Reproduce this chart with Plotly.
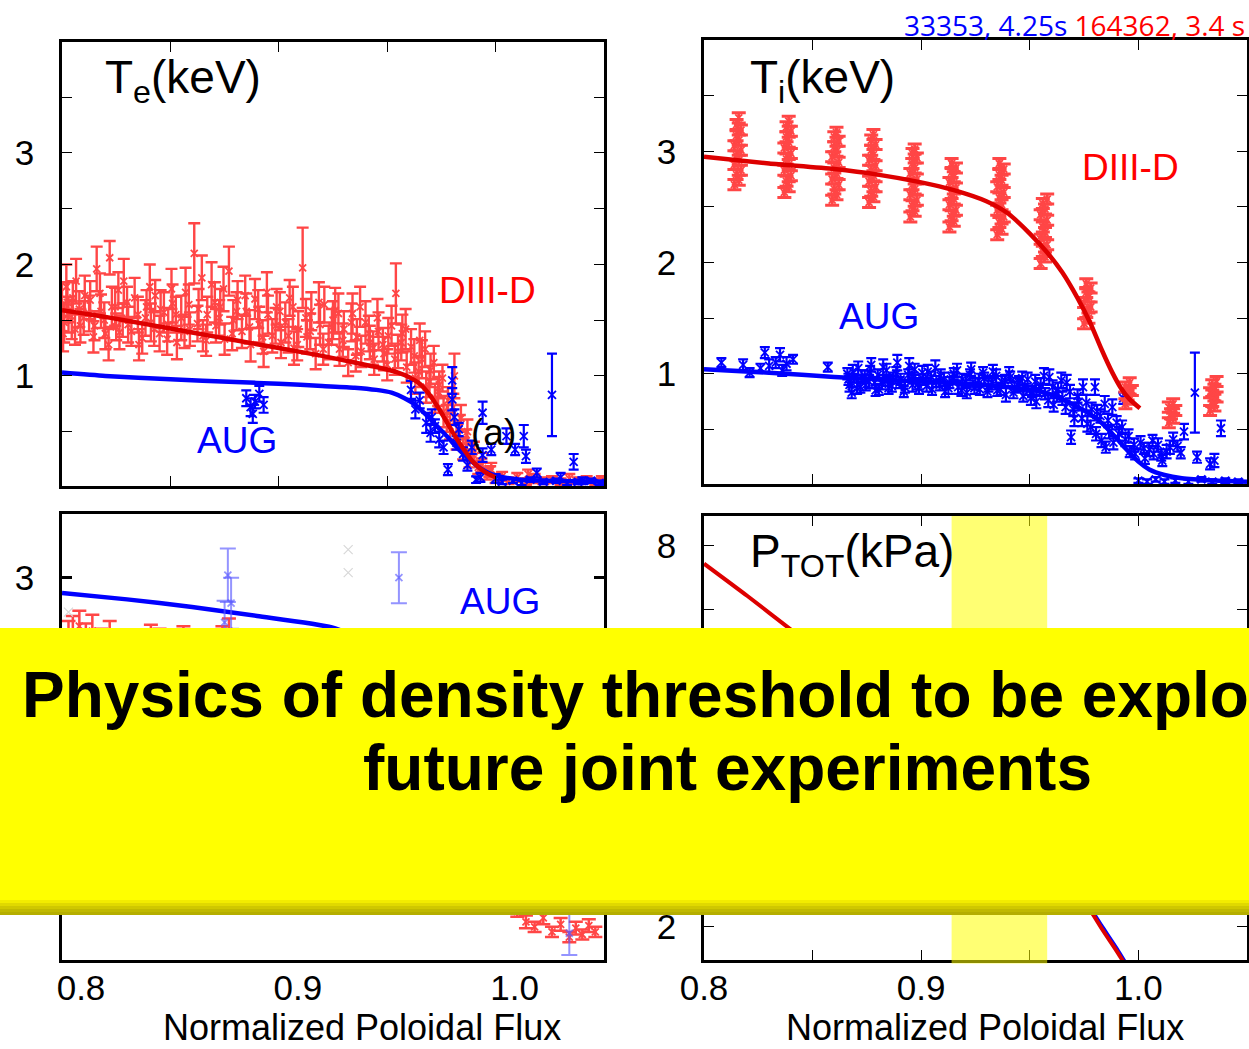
import plotly.graph_objects as go

W, H = 1249, 1049

# ---------------- Te panel (top left) ----------------
te_d3d_x = [0.800, 0.801, 0.802, 0.803, 0.805, 0.806, 0.808, 0.810, 0.813, 0.815,
            0.816, 0.818, 0.820, 0.822, 0.823, 0.825, 0.826, 0.828, 0.830, 0.832,
            0.835, 0.837, 0.839, 0.841, 0.843, 0.845, 0.847, 0.849, 0.851, 0.853,
            0.855, 0.857, 0.859, 0.861, 0.863, 0.865, 0.867, 0.869, 0.871, 0.873,
            0.875, 0.877, 0.879, 0.881, 0.883, 0.885, 0.887, 0.889, 0.891, 0.893,
            0.895, 0.897, 0.899, 0.901, 0.903, 0.905, 0.907, 0.909, 0.911, 0.913,
            0.915, 0.917, 0.919, 0.921, 0.923, 0.925, 0.926, 0.928, 0.930, 0.932,
            0.934, 0.936, 0.938, 0.940, 0.942, 0.944, 0.946, 0.948, 0.950, 0.952,
            0.954, 0.955, 0.957, 0.959, 0.961, 0.963, 0.965, 0.966, 0.968, 0.970,
            0.972, 0.974, 0.976, 0.978, 0.979, 0.981, 0.982, 0.984, 0.985, 0.987,
            0.988, 0.990, 0.992, 0.994, 0.996, 0.998, 1.000, 1.003, 1.006, 1.010,
            1.014, 1.015, 1.018, 1.022, 1.026, 1.030, 1.034, 1.038, 1.042, 1.046, 1.049,
            0.8005, 0.8025, 0.8045, 0.8065, 0.8085, 0.8105, 0.8125, 0.8145, 0.8175, 0.8195,
            0.8215, 0.8245, 0.8265, 0.8285, 0.8305, 0.8335, 0.8355, 0.8385, 0.8405, 0.8425,
            0.8455, 0.8485, 0.8505, 0.8525, 0.8565, 0.8585, 0.8625, 0.8645, 0.8665, 0.8705,
            0.8725, 0.8745, 0.8785, 0.8805, 0.8845, 0.8865, 0.8905, 0.8925, 0.8945, 0.8985,
            0.9005, 0.9045, 0.9065, 0.9085, 0.9125, 0.9145, 0.9185, 0.9205, 0.9245, 0.9275,
            0.9295, 0.9335, 0.9355, 0.9375, 0.9415, 0.9435, 0.9455, 0.9485, 0.9505, 0.9535,
            0.9565, 0.9585, 0.9625, 0.9645, 0.9675, 0.9695, 0.9715, 0.9735, 0.9755, 0.9775,
            0.9805, 0.9835, 0.9865, 0.9895, 0.9935, 0.9975]
te_d3d_y = [1.62, 1.48, 1.80, 1.55, 1.70, 1.42, 1.60, 1.52, 1.68, 1.45,
            1.96, 1.58, 1.38, 2.06, 1.62, 1.44, 1.77, 1.50, 1.66, 1.40,
            1.55, 1.34, 1.62, 1.48, 1.72, 1.38, 1.57, 1.46, 1.65, 1.30,
            1.52, 1.75, 1.42, 2.10, 1.60, 1.36, 1.55, 1.82, 1.45, 1.62,
            1.33, 1.94, 1.50, 1.68, 1.40, 1.58, 1.28, 1.69, 1.46, 1.22,
            1.55, 1.36, 1.62, 1.30, 1.48, 1.70, 1.25, 1.42, 1.97, 1.35,
            1.58, 1.20, 1.46, 1.64, 1.30, 1.50, 1.59, 1.24, 1.42, 1.12,
            1.56, 1.35, 1.22, 1.48, 1.30, 1.15, 1.40, 1.28, 1.10, 1.45,
            1.74, 1.22, 1.38, 1.08, 1.26, 0.98, 1.32, 1.15, 0.90, 1.05,
            0.80, 0.92, 0.68, 0.78, 0.55, 1.00, 0.45, 0.62, 0.35, 0.50,
            0.26, 0.32, 0.18, 0.24, 0.12, 0.16, 0.08, 0.10, 0.06, 0.09,
            0.05, 0.12, 0.08, 0.06, 0.07, 0.05, 0.08, 0.06, 0.07, 0.05, 0.07,
            1.38, 1.66, 1.50, 1.85, 1.45, 1.72, 1.56, 1.35, 1.74, 1.50,
            1.28, 1.62, 1.39, 1.85, 1.46, 1.70, 1.28, 1.52, 1.80, 1.42,
            1.60, 1.33, 1.78, 1.55, 1.40, 1.64, 1.47, 1.88, 1.32, 1.66,
            1.52, 1.78, 1.38, 1.58, 1.72, 1.44, 1.60, 1.35, 1.75, 1.45,
            1.58, 1.36, 1.62, 1.28, 1.52, 1.40, 1.66, 1.24, 1.44, 1.56,
            1.32, 1.48, 1.18, 1.62, 1.38, 1.25, 1.52, 1.20, 1.36, 1.15,
            1.30, 1.42, 1.18, 1.04, 1.24, 0.95, 1.12, 0.86, 0.98, 0.62,
            0.72, 0.54, 0.42, 0.30, 0.20, 0.14]
te_d3d_err = [0.22, 0.18, 0.20, 0.16, 0.15, 0.14, 0.16, 0.15, 0.17, 0.13,
              0.20, 0.15, 0.14, 0.15, 0.18, 0.12, 0.16, 0.15, 0.14, 0.13,
              0.16, 0.14, 0.15, 0.17, 0.14, 0.16, 0.18, 0.15, 0.17, 0.15,
              0.20, 0.22, 0.15, 0.27, 0.18, 0.14, 0.16, 0.20, 0.15, 0.16,
              0.14, 0.22, 0.18, 0.17, 0.15, 0.16, 0.15, 0.18, 0.16, 0.14,
              0.17, 0.15, 0.16, 0.14, 0.18, 0.16, 0.15, 0.16, 0.36, 0.15,
              0.17, 0.14, 0.18, 0.16, 0.15, 0.17, 0.20, 0.15, 0.16, 0.12,
              0.18, 0.16, 0.14, 0.19, 0.15, 0.14, 0.17, 0.15, 0.14, 0.18,
              0.27, 0.15, 0.17, 0.14, 0.16, 0.14, 0.15, 0.17, 0.14, 0.15,
              0.13, 0.12, 0.14, 0.12, 0.12, 0.20, 0.11, 0.12, 0.10, 0.11,
              0.08, 0.09, 0.06, 0.07, 0.05, 0.06, 0.04, 0.04, 0.03, 0.04,
              0.03, 0.04, 0.04, 0.03, 0.03, 0.03, 0.04, 0.03, 0.03, 0.03, 0.03,
              0.16, 0.18, 0.17, 0.20, 0.15, 0.18, 0.16, 0.14, 0.18, 0.16,
              0.14, 0.17, 0.15, 0.20, 0.16, 0.18, 0.14, 0.16, 0.20, 0.15,
              0.17, 0.14, 0.18, 0.16, 0.15, 0.18, 0.16, 0.20, 0.14, 0.18,
              0.16, 0.20, 0.15, 0.17, 0.18, 0.15, 0.17, 0.15, 0.18, 0.16,
              0.17, 0.15, 0.18, 0.14, 0.17, 0.16, 0.18, 0.14, 0.16, 0.18,
              0.15, 0.17, 0.14, 0.18, 0.16, 0.15, 0.17, 0.15, 0.16, 0.14,
              0.16, 0.18, 0.15, 0.14, 0.16, 0.14, 0.15, 0.13, 0.12, 0.12,
              0.12, 0.11, 0.10, 0.08, 0.06, 0.05]

te_aug_x = [0.885, 0.887, 0.889, 0.891, 0.893, 0.888, 0.961, 0.963, 0.965, 0.968,
            0.9706, 0.970, 0.972, 0.974, 0.976, 0.978, 0.980, 0.980, 0.981, 0.982,
            0.983, 0.985, 0.987, 0.989, 0.991, 0.993, 0.994, 0.994, 0.998, 1.000,
            1.005, 1.009, 1.013, 1.014, 1.019, 1.026, 1.030, 1.036, 1.040,
            1.003, 1.008, 1.012, 1.016, 1.022, 1.028, 1.033, 1.038, 1.044, 1.048]
te_aug_y = [0.80, 0.72, 0.77, 0.84, 0.74, 0.66, 0.875, 0.70, 0.78, 0.58,
            0.63, 0.49, 0.55, 0.43, 0.36, 0.16, 0.96, 0.79, 0.63, 0.40,
            0.52, 0.30, 0.20, 0.36, 0.07, 0.09, 0.67, 0.29, 0.34, 0.08,
            0.46, 0.34, 0.46, 0.28, 0.13, 0.83, 0.09, 0.23, 0.06,
            0.05, 0.06, 0.04, 0.07, 0.05, 0.06, 0.04, 0.05, 0.06, 0.04]
te_aug_err = [0.07, 0.08, 0.06, 0.07, 0.07, 0.08, 0.08, 0.08, 0.07, 0.09,
              0.07, 0.08, 0.06, 0.07, 0.06, 0.05, 0.12, 0.10, 0.07, 0.06,
              0.06, 0.06, 0.05, 0.06, 0.03, 0.04, 0.10, 0.06, 0.05, 0.04,
              0.07, 0.05, 0.10, 0.06, 0.04, 0.37, 0.04, 0.07, 0.03,
              0.02, 0.02, 0.02, 0.02, 0.02, 0.02, 0.02, 0.02, 0.02, 0.02]

te_d3d_fit_x = [0.800, 0.820, 0.840, 0.860, 0.880, 0.900, 0.920, 0.935, 0.945, 0.955,
                0.960, 0.965, 0.970, 0.975, 0.980, 0.985, 0.990, 0.995, 1.000]
te_d3d_fit_y = [1.59, 1.53, 1.46, 1.39, 1.32, 1.25, 1.18, 1.12, 1.08, 1.03,
                0.99, 0.93, 0.82, 0.67, 0.50, 0.35, 0.22, 0.14, 0.09]
te_aug_fit_x = [0.800, 0.820, 0.850, 0.880, 0.900, 0.920, 0.935, 0.945, 0.952, 0.958,
                0.963, 0.968, 0.973, 0.978, 0.983, 0.988, 0.993, 0.998, 1.004, 1.012,
                1.025, 1.050]
te_aug_fit_y = [1.03, 1.00, 0.97, 0.945, 0.93, 0.91, 0.895, 0.875, 0.85, 0.80,
                0.74, 0.65, 0.55, 0.45, 0.34, 0.25, 0.17, 0.12, 0.09, 0.07,
                0.06, 0.05]

# ---------------- Ti panel (top right) ----------------
ti_d3d_x = [0.814, 0.816, 0.815, 0.817, 0.814, 0.816, 0.815, 0.817, 0.814, 0.816, 0.815, 0.817, 0.815, 0.816,
            0.837, 0.839, 0.838, 0.840, 0.837, 0.839, 0.838, 0.840, 0.837, 0.839, 0.838, 0.840, 0.838, 0.839,
            0.859, 0.861, 0.860, 0.862, 0.859, 0.861, 0.860, 0.862, 0.859, 0.861, 0.860, 0.862, 0.860, 0.861,
            0.876, 0.878, 0.877, 0.879, 0.876, 0.878, 0.877, 0.879, 0.876, 0.878, 0.877, 0.879, 0.877, 0.878,
            0.895, 0.897, 0.896, 0.898, 0.895, 0.897, 0.896, 0.898, 0.895, 0.897, 0.896, 0.898, 0.896, 0.897,
            0.913, 0.915, 0.914, 0.916, 0.913, 0.915, 0.914, 0.916, 0.913, 0.915, 0.914, 0.916, 0.914,
            0.935, 0.937, 0.936, 0.938, 0.935, 0.937, 0.936, 0.938, 0.935, 0.937, 0.936, 0.938, 0.936,
            0.955, 0.957, 0.956, 0.958, 0.955, 0.957, 0.956, 0.958, 0.955, 0.957, 0.956, 0.958,
            0.975, 0.977, 0.976, 0.978, 0.975, 0.977, 0.976, 0.978, 0.976,
            0.994, 0.996, 0.995, 0.997, 0.994, 0.996,
            1.014, 1.016, 1.015, 1.017, 1.014, 1.016,
            1.033, 1.035, 1.034, 1.036, 1.033, 1.035, 1.034, 1.036]
ti_d3d_y = [2.70, 2.74, 2.79, 2.83, 2.88, 2.92, 2.96, 3.01, 3.05, 3.10, 3.14, 3.19, 3.24, 3.30,
            2.63, 2.68, 2.73, 2.78, 2.83, 2.88, 2.93, 2.98, 3.03, 3.08, 3.13, 3.18, 3.22, 3.27,
            2.56, 2.61, 2.66, 2.70, 2.75, 2.80, 2.85, 2.90, 2.95, 3.00, 3.04, 3.09, 3.13, 3.17,
            2.54, 2.59, 2.64, 2.68, 2.73, 2.78, 2.83, 2.87, 2.92, 2.97, 3.01, 3.06, 3.10, 3.15,
            2.41, 2.46, 2.51, 2.56, 2.61, 2.66, 2.70, 2.75, 2.80, 2.85, 2.89, 2.94, 2.98, 3.02,
            2.32, 2.37, 2.42, 2.47, 2.52, 2.57, 2.62, 2.67, 2.72, 2.77, 2.81, 2.85, 2.89,
            2.25, 2.30, 2.36, 2.41, 2.47, 2.52, 2.58, 2.63, 2.68, 2.74, 2.79, 2.84, 2.89,
            1.99, 2.05, 2.10, 2.16, 2.21, 2.27, 2.32, 2.38, 2.43, 2.48, 2.53, 2.57,
            1.45, 1.50, 1.55, 1.60, 1.64, 1.69, 1.73, 1.77, 1.81,
            0.73, 0.77, 0.81, 0.85, 0.88, 0.92,
            0.56, 0.60, 0.64, 0.67, 0.70, 0.73,
            0.67, 0.71, 0.75, 0.79, 0.83, 0.86, 0.90, 0.93]
ti_d3d_err = [0.045] * 144

ti_aug_x = [0.808, 0.818, 0.821, 0.826, 0.828, 0.830, 0.833, 0.835, 0.836, 0.838,
            0.841, 0.857, 0.866, 0.867, 0.868, 0.869, 0.871, 0.872, 0.874, 0.876,
            0.877, 0.879, 0.880, 0.882, 0.884, 0.885, 0.887, 0.889, 0.890, 0.892,
            0.894, 0.896, 0.897, 0.899, 0.901, 0.903, 0.905, 0.907, 0.909, 0.911,
            0.913, 0.915, 0.917, 0.919, 0.921, 0.923, 0.925, 0.927, 0.929, 0.931,
            0.933, 0.935, 0.937, 0.939, 0.941, 0.943, 0.945, 0.947, 0.949, 0.951,
            0.953, 0.955, 0.957, 0.959, 0.961, 0.963, 0.965, 0.967, 0.969, 0.970,
            0.972, 0.974, 0.976, 0.978, 0.980, 0.981, 0.983, 0.985, 0.986, 0.988,
            0.990, 0.991, 0.993, 0.994, 0.996, 0.998, 1.001, 1.003, 1.005, 1.007,
            1.009, 1.011, 1.013, 1.016, 1.018, 1.021, 1.026, 1.027, 1.033, 1.035,
            1.038, 1.000, 1.004, 1.008, 1.012, 1.017, 1.023, 1.029, 1.034, 1.040,
            1.046,
            0.8665, 0.8685, 0.8705, 0.8725, 0.8745, 0.8765, 0.8785, 0.8805, 0.8825, 0.8845,
            0.8865, 0.8885, 0.8905, 0.8925, 0.8945, 0.8965, 0.8985, 0.9005, 0.9025, 0.9045,
            0.9065, 0.9085, 0.9105, 0.9125, 0.9145, 0.9165, 0.9185, 0.9205, 0.9225, 0.9245,
            0.9265, 0.9285, 0.9305, 0.9325, 0.9345, 0.9365, 0.9385, 0.9405, 0.9425, 0.9445,
            0.9465, 0.9485, 0.9505, 0.9525, 0.9545, 0.9565, 0.9585, 0.9605, 0.9625, 0.9645,
            0.9665, 0.9685, 0.9705, 0.9725, 0.9745, 0.9765, 0.9785, 0.9805, 0.9825, 0.9845,
            0.9865, 0.9885, 0.9925, 0.9955, 0.9985, 1.0025, 1.0065, 1.0105, 1.0145, 1.0195]
ti_aug_y = [1.10, 1.08, 1.01, 1.05, 1.19, 1.07, 1.10, 1.17, 1.03, 1.09,
            1.13, 1.06, 1.00, 0.90, 0.83, 0.96, 1.05, 0.88, 0.98, 0.93,
            1.08, 0.85, 0.99, 0.91, 1.03, 0.87, 0.96, 1.10, 0.92, 0.84,
            0.99, 0.90, 1.04, 0.87, 0.95, 1.02, 0.86, 0.93, 0.98, 0.84,
            0.92, 1.00, 0.88, 0.95, 0.83, 1.04, 0.91, 0.86, 0.96, 0.89,
            1.02, 0.85, 0.93, 0.81, 0.97, 0.88, 0.92, 0.80, 0.95, 0.84,
            0.75, 0.90, 0.82, 0.97, 0.72, 0.86, 0.78, 0.92, 0.43, 0.68,
            0.80, 0.60, 0.74, 0.52, 0.88, 0.66, 0.40, 0.34, 0.58, 0.70,
            0.56, 0.46, 0.78, 0.41, 0.30, 0.36, 0.38, 0.24, 0.32, 0.28,
            0.36, 0.22, 0.30, 0.41, 0.35, 0.48, 0.83, 0.25, 0.19, 0.22,
            0.51, 0.04, 0.03, 0.05, 0.03, 0.04, 0.03, 0.05, 0.03, 0.04,
            0.03,
            0.95, 1.02, 0.87, 0.97, 0.90, 1.01, 0.92, 0.86, 1.06, 0.94,
            0.89, 1.00, 0.95, 0.88, 1.07, 0.96, 0.91, 1.01, 0.89, 0.97,
            1.05, 0.90, 0.95, 0.87, 0.96, 1.03, 0.85, 0.93, 0.99, 0.87,
            0.94, 1.01, 0.84, 0.92, 0.98, 0.86, 0.94, 1.00, 0.83, 0.90,
            0.96, 0.86, 0.78, 0.93, 0.85, 0.98, 0.76, 0.88, 0.81, 0.94,
            0.70, 0.84, 0.60, 0.75, 0.88, 0.55, 0.68, 0.46, 0.62, 0.73,
            0.48, 0.38, 0.52, 0.44, 0.28, 0.33, 0.40, 0.27, 0.34, 0.29]
ti_aug_err = [0.04, 0.05, 0.04, 0.04, 0.05, 0.06, 0.05, 0.06, 0.05, 0.06,
              0.04, 0.04, 0.05, 0.06, 0.05, 0.04, 0.06, 0.05, 0.05, 0.06,
              0.06, 0.05, 0.05, 0.05, 0.06, 0.05, 0.05, 0.07, 0.05, 0.05,
              0.05, 0.06, 0.05, 0.05, 0.05, 0.06, 0.05, 0.05, 0.06, 0.05,
              0.05, 0.05, 0.06, 0.05, 0.05, 0.06, 0.05, 0.05, 0.05, 0.05,
              0.06, 0.05, 0.05, 0.06, 0.05, 0.05, 0.06, 0.05, 0.06, 0.05,
              0.06, 0.06, 0.05, 0.07, 0.06, 0.06, 0.06, 0.07, 0.06, 0.06,
              0.06, 0.07, 0.07, 0.06, 0.07, 0.06, 0.06, 0.05, 0.06, 0.07,
              0.06, 0.06, 0.05, 0.06, 0.05, 0.06, 0.06, 0.05, 0.06, 0.05,
              0.06, 0.05, 0.06, 0.06, 0.05, 0.07, 0.36, 0.05, 0.05, 0.06,
              0.07, 0.02, 0.02, 0.02, 0.02, 0.02, 0.02, 0.02, 0.02, 0.02,
              0.02,
              0.05, 0.06, 0.05, 0.06, 0.05, 0.06, 0.05, 0.05, 0.07, 0.05,
              0.05, 0.06, 0.05, 0.05, 0.07, 0.05, 0.05, 0.06, 0.05, 0.05,
              0.07, 0.05, 0.06, 0.05, 0.05, 0.06, 0.05, 0.06, 0.05, 0.05,
              0.06, 0.05, 0.05, 0.06, 0.06, 0.05, 0.05, 0.06, 0.05, 0.06,
              0.06, 0.05, 0.06, 0.06, 0.05, 0.07, 0.06, 0.06, 0.06, 0.07,
              0.06, 0.06, 0.07, 0.06, 0.07, 0.07, 0.06, 0.06, 0.06, 0.07,
              0.06, 0.06, 0.06, 0.06, 0.05, 0.05, 0.05, 0.05, 0.06, 0.05]

ti_d3d_fit_x = [0.800, 0.830, 0.860, 0.880, 0.900, 0.915, 0.930, 0.940, 0.950, 0.958,
                0.965, 0.972, 0.978, 0.983, 0.988, 0.992, 0.996, 1.0007]
ti_d3d_fit_y = [2.95, 2.89, 2.84, 2.79, 2.72, 2.65, 2.55, 2.44, 2.26, 2.09,
                1.91, 1.68, 1.45, 1.22, 1.01, 0.87, 0.77, 0.69]
ti_aug_fit_x = [0.800, 0.830, 0.860, 0.890, 0.920, 0.940, 0.955, 0.965, 0.975, 0.983,
                0.989, 0.994, 1.000, 1.005, 1.012, 1.020, 1.035, 1.050]
ti_aug_fit_y = [1.04, 1.01, 0.97, 0.94, 0.91, 0.88, 0.84, 0.77, 0.67, 0.56,
                0.44, 0.33, 0.21, 0.14, 0.09, 0.06, 0.04, 0.03]

# ---------------- density panel (bottom left) ----------------
ne_d3d_x = [0.803, 0.805, 0.808, 0.811, 0.814, 0.818, 0.822, 0.838, 0.841, 0.845,
            0.852, 0.856, 0.860, 0.874, 0.877, 0.880, 0.900, 0.930, 0.960, 0.980,
            1.005, 1.010, 1.014, 1.018, 1.022, 1.026, 1.030, 1.034, 1.037, 1.040,
            1.043, 1.046]
ne_d3d_y = [2.52, 2.55, 2.62, 2.50, 2.58, 2.48, 2.53, 2.46, 2.52, 2.50,
            2.44, 2.51, 2.47, 2.50, 2.58, 2.40, 2.35, 2.20, 1.80, 1.00,
            0.42, 0.38, 0.30, 0.26, 0.33, 0.22, 0.28, 0.18, 0.25, 0.20,
            0.27, 0.22]
ne_d3d_err = [0.14, 0.15, 0.12, 0.14, 0.13, 0.12, 0.13, 0.12, 0.11, 0.10,
              0.10, 0.11, 0.11, 0.12, 0.10, 0.12, 0.10, 0.10, 0.10, 0.10,
              0.05, 0.04, 0.05, 0.04, 0.05, 0.04, 0.05, 0.04, 0.05, 0.04,
              0.05, 0.04]
ne_aug_x = [0.8765, 0.878, 0.875, 0.9554, 1.034]
ne_aug_y = [3.02, 2.80, 2.65, 3.00, 0.21]
ne_aug_err = [0.21, 0.20, 0.17, 0.20, 0.17]
ne_faint_x = [0.932, 0.932, 0.803]
ne_faint_y = [3.22, 3.04, 2.73]
ne_aug_fit_x = [0.800, 0.830, 0.860, 0.890, 0.9245, 0.940, 0.955, 0.965, 0.975, 0.985, 0.995]
ne_aug_fit_y = [2.88, 2.83, 2.77, 2.70, 2.61, 2.50, 2.30, 2.05, 1.60, 1.10, 0.70]

# ---------------- total pressure panel (bottom right) ----------------
p_d3d_x = [0.800, 0.820, 0.840, 0.860, 0.880, 0.900, 0.920, 0.940, 0.955, 0.965,
           0.975, 0.983, 0.990, 0.995]
p_d3d_y = [7.72, 7.21, 6.68, 6.15, 5.60, 5.04, 4.46, 3.84, 3.30, 2.90,
           2.42, 1.98, 1.62, 1.35]
p_aug_x = [0.800, 0.840, 0.880, 0.920, 0.950, 0.965, 0.975, 0.983, 0.990, 0.995]
p_aug_y = [6.30, 5.70, 5.05, 4.30, 3.40, 2.88, 2.44, 2.02, 1.66, 1.38]
ped_band = [0.914, 0.958]

RED_PT = "#FF4646"
RED_FIT = "#DD0000"
BLUE = "#0000FF"
FONT = "Liberation Sans, Arial, sans-serif"

fig = go.Figure()


def add_points(x, y, err, color, xa, ya, cap=5, size=7, thick=1.8):
    fig.add_trace(go.Scatter(
        x=x, y=y, mode="markers", xaxis=xa, yaxis=ya,
        marker=dict(symbol="x-thin", size=size, line=dict(color=color, width=1.8)),
        error_y=dict(type="data", array=err, color=color, thickness=thick, width=cap),
        showlegend=False, hoverinfo="skip"))


def add_line(x, y, color, xa, ya, width=4.5):
    fig.add_trace(go.Scatter(
        x=x, y=y, mode="lines", xaxis=xa, yaxis=ya,
        line=dict(color=color, width=width, shape="spline", smoothing=0.6),
        showlegend=False, hoverinfo="skip"))


# Te
add_points(te_d3d_x, te_d3d_y, te_d3d_err, RED_PT, "x", "y", cap=6, thick=2.4)
add_points(te_aug_x, te_aug_y, te_aug_err, BLUE, "x", "y", cap=5, size=8, thick=2.2)
add_line(te_aug_fit_x, te_aug_fit_y, BLUE, "x", "y")
add_line(te_d3d_fit_x, te_d3d_fit_y, RED_FIT, "x", "y")

# Ti
add_points(ti_aug_x, ti_aug_y, ti_aug_err, BLUE, "x2", "y2", cap=5, size=8, thick=2.2)
add_line(ti_aug_fit_x, ti_aug_fit_y, BLUE, "x2", "y2")
add_points(ti_d3d_x, ti_d3d_y, ti_d3d_err, RED_PT, "x2", "y2", cap=7, thick=3)
add_line(ti_d3d_fit_x, ti_d3d_fit_y, RED_FIT, "x2", "y2")

# density
add_points(ne_d3d_x, ne_d3d_y, ne_d3d_err, RED_PT, "x3", "y3", cap=7, thick=2.5)
add_line(ne_aug_fit_x, ne_aug_fit_y, BLUE, "x3", "y3")
add_points(ne_aug_x, ne_aug_y, ne_aug_err, "rgba(90,90,255,0.65)", "x3", "y3", cap=8, thick=2)
fig.add_trace(go.Scatter(x=ne_faint_x, y=ne_faint_y, mode="markers", xaxis="x3", yaxis="y3",
                         marker=dict(symbol="x-thin", size=9, line=dict(color="#d8d8d8", width=1.2)),
                         showlegend=False, hoverinfo="skip"))

# pressure
add_line(p_aug_x, p_aug_y, BLUE, "x4", "y4", width=4)
add_line(p_d3d_x, p_d3d_y, RED_FIT, "x4", "y4", width=4)

# axes
dom_x_left = [62 / W, 604 / W]
dom_x_right = [704 / W, 1247 / W]


def ydom(top, bottom):
    return [(H - bottom) / H, (H - top) / H]


base = dict(showline=True, linecolor="black", linewidth=2.5, mirror="allticks",
            ticks="inside", ticklen=10, tickwidth=1.4, tickcolor="black",
            showgrid=False, zeroline=False, automargin=False,
            tickfont=dict(family=FONT, size=35, color="black"))

xticks_top = dict(tickvals=[0.85, 0.9, 0.95, 1.0], showticklabels=False)
half_vals = [0.5, 1, 1.5, 2, 2.5, 3, 3.5]
half_text = ["", "1", "", "2", "", "3", ""]

fig.update_layout(
    width=W, height=H, margin=dict(l=0, r=0, t=0, b=0, autoexpand=False),
    paper_bgcolor="white", plot_bgcolor="white", showlegend=False,
    xaxis=dict(base, domain=dom_x_left, range=[0.8, 1.05], anchor="y", **xticks_top),
    yaxis=dict(base, domain=ydom(42, 486), range=[0.013, 3.995], anchor="x",
               tickvals=half_vals, ticktext=half_text, ticklabelstandoff=18),
    xaxis2=dict(base, domain=dom_x_right, range=[0.8, 1.05], anchor="y2", **xticks_top),
    yaxis2=dict(base, domain=ydom(40, 484), range=[0.009, 4.0], anchor="x2",
                tickvals=half_vals, ticktext=half_text, ticklabelstandoff=18),
    xaxis3=dict(base, domain=dom_x_left, range=[0.8, 1.05], anchor="y3",
                tickvals=[0.8, 0.9, 1.0], ticktext=["0.8", "0.9", "1.0"], ticklen=0,
                ticklabelshift=19, ticklabelstandoff=-5),
    # labels that sit behind the banner are left blank
    yaxis3=dict(base, domain=ydom(514, 960), range=[0, 3.5], anchor="x3",
                tickvals=[1, 2, 3], ticktext=["", "", "3"], tickwidth=2.5,
                ticklabelstandoff=18),
    xaxis4=dict(base, domain=dom_x_right, range=[0.8, 1.05], anchor="y4",
                tickvals=[0.8, 0.85, 0.9, 0.95, 1.0], ticktext=["0.8", "", "0.9", "", "1.0"],
                ticklabelstandoff=-5),
    yaxis4=dict(base, domain=ydom(516, 960), range=[1.48, 8.47], anchor="x4",
                tickvals=[2, 3, 4, 5, 6, 7, 8], ticktext=["2", "", "", "", "", "", "8"],
                ticklabelstandoff=18),
)


def px(xp, yp):
    return xp / W, 1 - yp / H


def label(text, xp, yp, size, color="black", anchor="center", family=FONT):
    x, y = px(xp, yp)
    fig.add_annotation(x=x, y=y, xref="paper", yref="paper", text=text, showarrow=False,
                       xanchor=anchor, yanchor="middle",
                       font=dict(family=family, size=size, color=color))


# panel labels
label("T<sub>e</sub>(keV)", 103, 80, 46, anchor="left")
label("T<sub>i</sub>(keV)", 748, 80, 46, anchor="left")
label("P<sub>TOT</sub>(kPa)", 748, 554, 46, anchor="left")
label("DIII-D", 487, 290, 37, color="#FF0000")
label("AUG", 237, 440, 37, color="#0000FF")
label("(a)", 493, 432, 37)
label("DIII-D", 1130, 167, 37, color="#FF0000")
label("AUG", 879, 316, 37, color="#0000FF")
label("AUG", 500, 601, 37, color="#0000FF")
label("Normalized Poloidal Flux", 362, 1027, 36)
label("Normalized Poloidal Flux", 985, 1027, 36)
label("<span style='color:#0000FF'>33353, 4.25s</span> "
      "<span style='color:#FF0000'>164362, 3.4 s</span>",
      1247, 25, 28, anchor="right", family="Open Sans, Noto Sans, sans-serif")

# pedestal window in the pressure panel
fig.add_shape(type="rect", xref="x4", yref="y4 domain", x0=ped_band[0], x1=ped_band[1],
              y0=-0.008, y1=1.0, fillcolor="rgba(255,255,0,0.55)", line=dict(width=0),
              layer="above")

# yellow banner across the middle
by0, by1 = 628, 900
fig.add_shape(type="rect", xref="paper", yref="paper", x0=0, x1=1,
              y0=px(0, by1)[1], y1=px(0, by0)[1], fillcolor="#FFFF00",
              line=dict(width=0), layer="above")
shade = ["#F2EC00", "#E0D900", "#CFC800", "#C0B900", "#B5AE00"]
for i, c in enumerate(shade):
    fig.add_shape(type="rect", xref="paper", yref="paper", x0=0, x1=1,
                  y0=px(0, by1 + 3 * (i + 1))[1], y1=px(0, by1 + 3 * i)[1],
                  fillcolor=c, line=dict(width=0), layer="above")

label("<b>Physics of density threshold to be explo</b>", 20, 695, 64, anchor="left")
label("<b>future joint experiments</b>", 728, 768, 64)

fig.write_html("out.html")
